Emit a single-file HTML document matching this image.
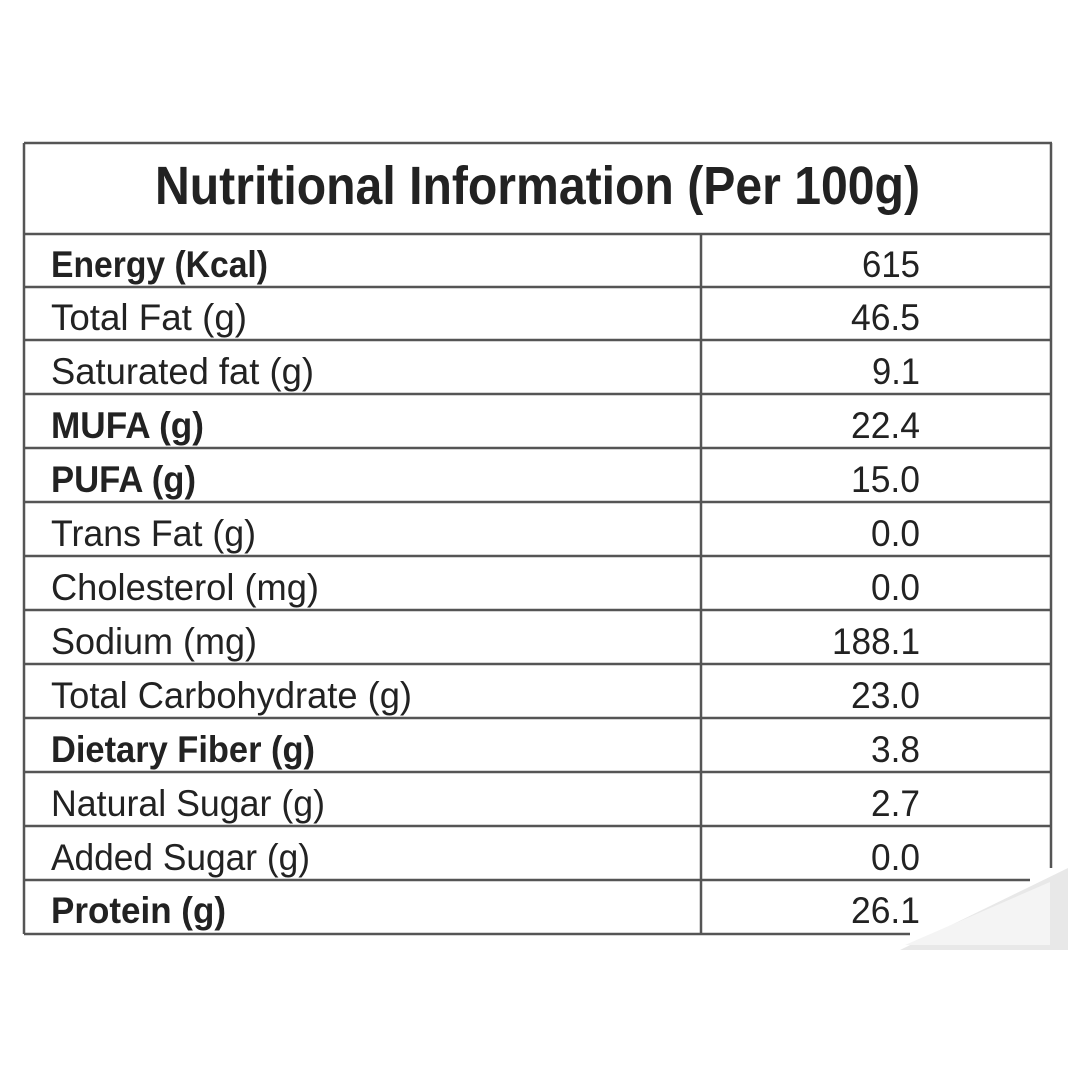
<!DOCTYPE html>
<html><head><meta charset="utf-8"><style>
html,body{margin:0;padding:0;background:#fff;width:1080px;height:1080px;overflow:hidden}
svg{display:block}
text{font-family:"Liberation Sans",sans-serif;fill:#222}
</style></head><body>
<svg width="1080" height="1080" viewBox="0 0 1080 1080">
<rect width="1080" height="1080" fill="#fff"/>
<g stroke="#555" stroke-width="2.5" fill="none">
<line x1="24" y1="143" x2="1052" y2="143"/>
<line x1="24" y1="143" x2="24" y2="934"/>
<line x1="1051" y1="143" x2="1051" y2="868"/>
<line x1="701" y1="234" x2="701" y2="934"/>
<line x1="24" y1="234" x2="1052" y2="234"/>
<line x1="24" y1="287" x2="1052" y2="287"/>
<line x1="24" y1="340" x2="1052" y2="340"/>
<line x1="24" y1="394" x2="1052" y2="394"/>
<line x1="24" y1="448" x2="1052" y2="448"/>
<line x1="24" y1="502" x2="1052" y2="502"/>
<line x1="24" y1="556" x2="1052" y2="556"/>
<line x1="24" y1="610" x2="1052" y2="610"/>
<line x1="24" y1="664" x2="1052" y2="664"/>
<line x1="24" y1="718" x2="1052" y2="718"/>
<line x1="24" y1="772" x2="1052" y2="772"/>
<line x1="24" y1="826" x2="1052" y2="826"/>
<line x1="24" y1="880" x2="1030" y2="880"/>
<line x1="24" y1="934" x2="910" y2="934"/>
</g>
<polygon points="900,950 1068,868 1068,950" fill="#e8e8e8"/>
<polygon points="905,945 1050,882 1050,945" fill="#f4f4f4"/>
<text x="155" y="204" font-size="54" font-weight="bold" textLength="765" lengthAdjust="spacingAndGlyphs">Nutritional Information (Per 100g)</text>
<g font-size="37">
<text x="51" y="277" font-weight="bold" textLength="217" lengthAdjust="spacingAndGlyphs">Energy (Kcal)</text>
<text x="51" y="330" textLength="196" lengthAdjust="spacingAndGlyphs">Total Fat (g)</text>
<text x="51" y="384" textLength="263" lengthAdjust="spacingAndGlyphs">Saturated fat (g)</text>
<text x="51" y="438" font-weight="bold" textLength="153" lengthAdjust="spacingAndGlyphs">MUFA (g)</text>
<text x="51" y="492" font-weight="bold" textLength="145" lengthAdjust="spacingAndGlyphs">PUFA (g)</text>
<text x="51" y="546" textLength="205" lengthAdjust="spacingAndGlyphs">Trans Fat (g)</text>
<text x="51" y="600" textLength="268" lengthAdjust="spacingAndGlyphs">Cholesterol (mg)</text>
<text x="51" y="654" textLength="206" lengthAdjust="spacingAndGlyphs">Sodium (mg)</text>
<text x="51" y="708" textLength="361" lengthAdjust="spacingAndGlyphs">Total Carbohydrate (g)</text>
<text x="51" y="762" font-weight="bold" textLength="264" lengthAdjust="spacingAndGlyphs">Dietary Fiber (g)</text>
<text x="51" y="816" textLength="274" lengthAdjust="spacingAndGlyphs">Natural Sugar (g)</text>
<text x="51" y="870" textLength="259" lengthAdjust="spacingAndGlyphs">Added Sugar (g)</text>
<text x="51" y="923" font-weight="bold" textLength="175" lengthAdjust="spacingAndGlyphs">Protein (g)</text>
<text x="862" y="277" textLength="58" lengthAdjust="spacingAndGlyphs">615</text>
<text x="851" y="330" textLength="69" lengthAdjust="spacingAndGlyphs">46.5</text>
<text x="872" y="384" textLength="48" lengthAdjust="spacingAndGlyphs">9.1</text>
<text x="851" y="438" textLength="69" lengthAdjust="spacingAndGlyphs">22.4</text>
<text x="851" y="492" textLength="69" lengthAdjust="spacingAndGlyphs">15.0</text>
<text x="871" y="546" textLength="49" lengthAdjust="spacingAndGlyphs">0.0</text>
<text x="871" y="600" textLength="49" lengthAdjust="spacingAndGlyphs">0.0</text>
<text x="832" y="654" textLength="88" lengthAdjust="spacingAndGlyphs">188.1</text>
<text x="851" y="708" textLength="69" lengthAdjust="spacingAndGlyphs">23.0</text>
<text x="871" y="762" textLength="49" lengthAdjust="spacingAndGlyphs">3.8</text>
<text x="871" y="816" textLength="49" lengthAdjust="spacingAndGlyphs">2.7</text>
<text x="871" y="870" textLength="49" lengthAdjust="spacingAndGlyphs">0.0</text>
<text x="851" y="923" textLength="69" lengthAdjust="spacingAndGlyphs">26.1</text>
</g>
</svg>
</body></html>
